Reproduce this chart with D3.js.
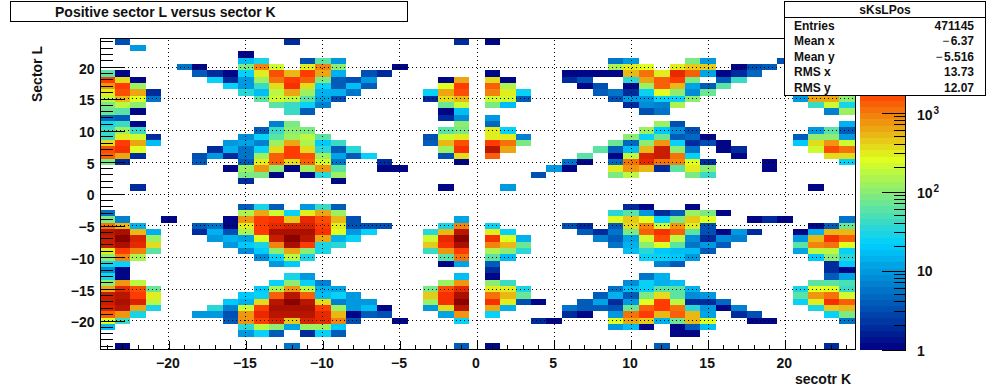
<!DOCTYPE html>
<html>
<head>
<meta charset="utf-8">
<script src="https://cdn.jsdelivr.net/npm/d3@7"></script>
<style>
body { margin: 0; background: #fff; }
text { font-family: "Liberation Sans", Arial, sans-serif; font-weight: bold; fill: #111; }
</style>
</head>
<body>
<svg id="chart" width="1006" height="388"></svg>
<script>
// tick labels and stats box
const xTicks = [-20, -15, -10, -5, 0, 5, 10, 15, 20];
const yTicks = [-20, -15, -10, -5, 0, 5, 10, 15, 20];
const statNames = ["Entries", "Mean x", "Mean y", "RMS x", "RMS y"];
const statValues = ["471145", "-6.37", "-5.516", "13.73", "12.07"];

// palette stops of the colour bar
const paletteStops = [0, 0.34, 0.61, 0.84, 1];
const paletteColors = ["rgb(0,0,130)", "rgb(0,207,255)", "rgb(222,255,31)", "rgb(255,51,0)", "rgb(130,0,0)"];
const nColors = 50;
const zMax = 8700;

// sector L of each row, top row first
const sectorL = [24,23,22,21,20,19,18,17,16,15,14,13,12,11,10,9,8,7,6,5,4,3,2,1,0,
  -1,-2,-3,-4,-5,-6,-7,-8,-9,-10,-11,-12,-13,-14,-15,-16,-17,-18,-19,-20,-21,-22,-23,-24];

// counts per row, as runs: [first sector K, count, count, ...]
const rowCounts = [
  [[-23,3],[-12,2],[-1,2],[1,1]],
  [[-22,9]],
  [[-15,1]],
  [[-15,16,28],[-11,3,60,10],[9,6,10],[14,85,10],[20,3]],
  [[-19,6,1],[-15,85,900,220],[-11,320,900,110],[-5,1],[9,150,280,270],[13,320,450,450],[17,1,3,4]],
  [[-24,60,1],[-18,4,2,1,26,280,1500,500,1800,650,14],[-7,3,2],[1,1],[6,1,1,1,1,550,1100,320,2600,1200,11,1,2,5]],
  [[-24,1700,360,1],[-17,26,2,10,120,1000,2000,1400,85,4,3,9],[-2,1,600],[1,350,1],[6,2,3],[10,32,650,1300,2000,90],[16,4,45]],
  [[-24,700,1700,120],[-16,26,10,40,360,2200,360,26,4,17,4],[-2,250,2000],[1,1200,150],[7,1,3],[10,1,120,1300,550,11,4,55]],
  [[-24,280,1500,650,2],[-15,32,16,180,650,120,13,13,6],[-3,24,650,1600],[1,900,320,24],[8,4,6,2,26,270,100,8,65]],
  [[-24,170,550,250,6],[-14,60,200,170,60,12,3],[-3,2,350,500],[1,200,200,4],[9,3,9,10,26,26,100],[21,9,600,600,100]],
  [[-24,85,170,100],[-13,60,38,26,7],[-2,65,200],[1,85,17],[10,2,8,7,150],[22,45,210,30]],
  [[-24,70,60,1],[-12,38,4],[-2,1,18],[11,3,6],[23,7,120]],
  [[-24,5,4],[-2,2,8],[1,10]],
  [[-24,28,45,1],[-13,7,85],[-1,100],[1,5],[12,120,3],[24,14]],
  [[-24,40,120,45],[-14,4,45,100,85],[-2,60,90],[1,280,24],[11,130,20,8,3],[22,9,55,4]],
  [[-24,42,300,200,2],[-15,8,26,60,120,170,60],[-3,3,200,300],[1,300,300,7],[10,100,26,65,4,5,1],[21,4,110,110,9]],
  [[-24,360,1700,600,16],[-16,10,11,7,120,600,140,20,45],[-3,4,500,1500],[1,2000,1000,80],[9,70,5,100,800,24,2,3,1],[21,20,350,800,230]],
  [[-24,1500,2200,270],[-17,2,13,6,26,360,2000,360,32,4,32],[-2,120,2200],[1,4400,600],[8,60,4,16,550,4200,110,6],[16,1,2],[22,210,1500,1100]],
  [[-24,1400,600,2],[-18,3,9,2,6,120,1400,2000,1500,120,11,4,22],[-2,3,350],[1,1200],[7,60],[9,1,170,3000,4200,1000,26],[17,1],[23,340,340]],
  [[-24,80,2],[-18,4],[-15,4,300,1300,350,1200,200,6],[-6,2],[-1,1],[6,6,1],[9,5,1100,2600,1000,900,270,2],[19,1],[24,26]],
  [[-16,1,120,700,100,1,120,800,60],[-6,1,1],[5,9,1],[9,320,800,500,2,60,280,100],[19,1]],
  [[-15,90,90,1],[-11,1,32,120],[4,3],[9,90,180],[14,85,42]],
  [[-15,2],[-9,1]],
  [[-22,2],[-2,1],[2,9],[22,1]],
  [],
  [],
  [[-15,4,28,4],[-11,9,42,4],[10,2,1],[14,1]],
  [[-24,6],[-15,150,600,220,24,320,600,120],[9,32,60,9,2,4,120,80,1]],
  [[-24,90,7],[-20,1],[-16,1,800,1700,2100,450,2700,1500,500,3],[-1,11],[9,270,420,270,24,80,420,270],[18,1,2,1],[24,6]],
  [[-24,1100,550,14],[-18,4,6,1,330,1800,2800,3200,3000,2000,320,3,3,3],[-2,28,900],[1,24],[6,3,2],[9,4,360,850,200,800,280,3],[22,1,4,75]],
  [[-24,4400,5200,550,13],[-18,2,14,3,150,1800,6000,6000,6000,2300,250,10,24],[-3,32,550,5000],[1,320,24],[7,4,2,6,80,1300,2200,1300,60,3,1,9,2],[21,1,14,550,500]],
  [[-24,4000,7500,3300,130],[-17,9,14,12,270,3800,8000,4800,600,14,24],[-3,210,2700,7500],[1,2300,270,14],[8,7,4,11,210,1500,170,8,2,8,7],[21,10,480,2300,1300]],
  [[-24,3600,6000,2800,340],[-16,10,20,28,900,5500,1800,28,32],[-3,420,2300,5400],[1,900,550,75],[9,6,13,110,270,55,6,9,4],[21,55,850,1000,270]],
  [[-24,300,1700,900,55],[-15,8,20,100,620,100,28],[-3,38,750,1700],[1,160,100,32],[10,17,36,20,16,18,4],[21,11,170,170,24]],
  [[-24,95,850,150],[-14,8,26,180,30],[-2,60,1000],[1,60,16],[11,24,24,20,9],[22,20,100,36]],
  [[-24,28,24],[-13,9,20],[-2,1,12],[1,4],[12,7,4],[23,2,20]],
  [[-24,8,1],[1,2],[23,2,1]],
  [[-24,28,1],[-12,28,10],[-1,16],[1,1],[11,6,14],[23,4,11]],
  [[-24,110,800,170],[-13,26,95,26,7],[-2,130,800],[1,100,40],[10,8,24,13,18],[22,60,60,48]],
  [[-24,650,2700,1500,75],[-14,20,150,700,170,14,12],[-3,80,1600,2500],[1,300,290,28],[9,6,17,24,60,60,13],[21,28,240,240,38]],
  [[-24,3800,5000,2000,320],[-15,20,26,1400,4500,1400,16,24,10],[-3,420,2300,5400],[1,1100,550,75],[8,4,15,4,80,350,60,8,9],[21,55,750,1000,220]],
  [[-24,3800,6000,3000,180],[-16,20,13,350,4500,8000,4400,350,7,10,9],[-3,130,2300,7500],[1,2200,280,3,1],[7,4,11,2,9,240,1700,180,2,2,5],[21,22,300,2300,1300]],
  [[-24,3500,4800,600,28],[-17,32,7,200,1700,6000,6000,6000,1700,120,10,17,1],[-3,9,340,5000],[1,600,13],[6,6,4,4,3,75,1200,1800,1000,36,9,1,7],[22,28,400,480]],
  [[-24,1300,800,28],[-18,9,9,3,800,2700,4800,5000,4800,2700,550,1,4,3],[-2,11,800],[1,24],[6,2,1],[9,9,1000,1700,550,1300,550,11],[17,2,3],[23,26,80]],
  [[-24,270,45],[-16,4,800,2000,3000,450,3000,2500,900,3],[-5,1],[-1,24],[4,2,1],[9,270,600,420,14,75,550,270],[18,1,1],[24,6]],
  [[-24,16],[-15,32,170,100,11,120,130,20],[9,9,16,1],[13,1,4,18]],
  [[-15,9,24,4],[-11,2,24,4],[13,1,1]],
  [],
  [[-23,1],[-12,6],[-1,4],[1,1],[12,4],[23,2]]
];

const svg = d3.select("#chart");
const x = d3.scaleLinear().domain([-24.5, 24.5]).range([99.5, 854.5]);
const y = d3.scaleLinear().domain([-24.5, 24.5]).range([349.5, 38.5]);
const zPos = d3.scaleLog().domain([1, zMax]).range([349.5, 38.5]);
const palette = d3.scaleLinear().domain(paletteStops).range(paletteColors);

function levelColor(i) { return palette((i + 0.5) / nColors); }
function zColor(v) {
  let t = Math.log(v) / Math.log(zMax);
  return levelColor(Math.min(nColors - 1, Math.floor(t * nColors)));
}

// flatten the runs into cells
let cells = [];
rowCounts.forEach((runs, r) => {
  runs.forEach(run => {
    run.slice(1).forEach((c, i) => cells.push({k: run[0] + i, l: sectorL[r], c: c}));
  });
});

svg.append("g").selectAll("rect").data(cells).enter().append("rect")
  .attr("x", d => x(d.k - 0.5))
  .attr("y", d => y(d.l + 0.5))
  .attr("width", d => x(d.k + 0.5) - x(d.k - 0.5))
  .attr("height", d => y(d.l - 0.5) - y(d.l + 0.5))
  .attr("fill", d => zColor(d.c))
  .attr("shape-rendering", "crispEdges");

// dotted grid
let grid = svg.append("g").attr("stroke", "#000").attr("stroke-dasharray", "1,3").attr("shape-rendering", "crispEdges");
grid.selectAll(".gx").data(xTicks).enter().append("line")
  .attr("x1", d => x(d)).attr("x2", d => x(d)).attr("y1", 349).attr("y2", 38);
grid.selectAll(".gy").data(yTicks).enter().append("line")
  .attr("x1", 100).attr("x2", 856).attr("y1", d => y(d)).attr("y2", d => y(d));

// axes, ticks point into the frame
function minorTicks(g, vals, attrs) {
  g.selectAll(".minor").data(vals).enter().append("line").attr("class", "minor").attr("stroke", "#000")
    .attr("shape-rendering", "crispEdges").attr("x1", attrs.x1).attr("x2", attrs.x2).attr("y1", attrs.y1).attr("y2", attrs.y2);
}
let minorK = d3.range(-24, 25).filter(d => d % 5 != 0);

let xAxis = svg.append("g").attr("transform", "translate(0,349.5)")
  .call(d3.axisBottom(x).tickValues(xTicks).tickSize(-9).tickPadding(9).tickFormat(d => String(d).replace("-", "\u2212")));
minorTicks(xAxis, minorK, {x1: d => x(d), x2: d => x(d), y1: 0, y2: -5});
xAxis.selectAll(".tick text").attr("x", -1.5);

let yAxis = svg.append("g").attr("transform", "translate(100.5,0)")
  .call(d3.axisLeft(y).tickValues(yTicks).tickSize(-24).tickPadding(6).tickFormat(d => String(d).replace("-", "\u2212")));
minorTicks(yAxis, minorK, {x1: 0, x2: 12, y1: d => y(d), y2: d => y(d)});
yAxis.selectAll(".tick text").attr("y", 1.5);

[xAxis, yAxis].forEach(a => {
  a.select(".domain").remove();
  a.selectAll("text").style("font-size", "14px").style("font-family", "Liberation Sans").style("font-weight", "bold");
  a.selectAll(".tick line").attr("shape-rendering", "crispEdges");
});

svg.append("rect").attr("x", 100.5).attr("y", 38.5).attr("width", 755).attr("height", 311)
  .attr("fill", "none").attr("stroke", "#000").attr("shape-rendering", "crispEdges");

svg.append("text").attr("x", 851).attr("y", 384).attr("text-anchor", "end").style("font-size", "14px").text("secotr K");
svg.append("text").attr("transform", "translate(42,102) rotate(-90)").style("font-size", "14px").text("Sector L");

// colour bar
svg.append("g").selectAll("rect").data(d3.range(nColors)).enter().append("rect")
  .attr("x", 860).attr("width", 45)
  .attr("y", i => zPos(Math.pow(zMax, (i + 1) / nColors)))
  .attr("height", i => zPos(Math.pow(zMax, i / nColors)) - zPos(Math.pow(zMax, (i + 1) / nColors)))
  .attr("fill", i => levelColor(i))
  .attr("shape-rendering", "crispEdges");

let zMajor = [1, 10, 100, 1000];
let zMinor = [2,3,4,5,6,7,8,9,20,30,40,50,60,70,80,90,200,300,400,500,600,700,800,900,2000,3000,4000,5000,6000,7000,8000];
let zAxis = svg.append("g").attr("transform", "translate(905.5,0)")
  .call(d3.axisRight(zPos).tickValues(zMajor).tickSize(-24).tickFormat(""));
zAxis.select(".domain").remove();
zAxis.selectAll(".tick line").attr("shape-rendering", "crispEdges");
minorTicks(zAxis, zMinor, {x1: 0, x2: -12, y1: d => zPos(d), y2: d => zPos(d)});
svg.append("line").attr("x1", 905.5).attr("x2", 905.5).attr("y1", 38).attr("y2", 350).attr("stroke", "#000").attr("shape-rendering", "crispEdges");

zMajor.forEach(v => {
  let off = v == 1000 ? 7 : v == 10 ? 5 : 6;
  let t = svg.append("text").attr("x", 917).attr("y", zPos(v) + off).style("font-size", "14px");
  if (v == 1) t.text("1");
  else if (v == 10) t.text("10");
  else {
    t.text("10");
    t.append("tspan").attr("dx", 1).attr("dy", -6).style("font-size", "10px").text(Math.log10(v));
  }
});

// title box
svg.append("rect").attr("x", 10.5).attr("y", 1.5).attr("width", 397).attr("height", 20)
  .attr("fill", "#fff").attr("stroke", "#000").attr("shape-rendering", "crispEdges");
svg.append("text").attr("x", 55).attr("y", 17).style("font-size", "14px").text("Positive sector L versus sector K");

// stats box
svg.append("rect").attr("x", 784.5).attr("y", 1.5).attr("width", 201).attr("height", 94)
  .attr("fill", "#fff").attr("stroke", "#000").attr("shape-rendering", "crispEdges");
svg.append("line").attr("x1", 785).attr("x2", 985).attr("y1", 17.5).attr("y2", 17.5)
  .attr("stroke", "#000").attr("shape-rendering", "crispEdges");
svg.append("text").attr("x", 885).attr("y", 14).attr("text-anchor", "middle").style("font-size", "12px").text("sKsLPos");
let statY = [30, 45, 61, 76, 92];
statNames.forEach((n, i) => {
  svg.append("text").attr("x", 794).attr("y", statY[i]).style("font-size", "12px").text(n);
  let t = svg.append("text").attr("x", 974).attr("y", statY[i]).attr("text-anchor", "end").style("font-size", "12px");
  let v = statValues[i];
  if (v[0] == "-") {
    // the minus is thin and stands a little off the digits
    t.append("tspan").style("font-weight", "normal").text("\u2212");
    t.append("tspan").attr("dx", 1.5).text(v.slice(1));
  } else t.text(v);
});
</script>
</body>
</html>
